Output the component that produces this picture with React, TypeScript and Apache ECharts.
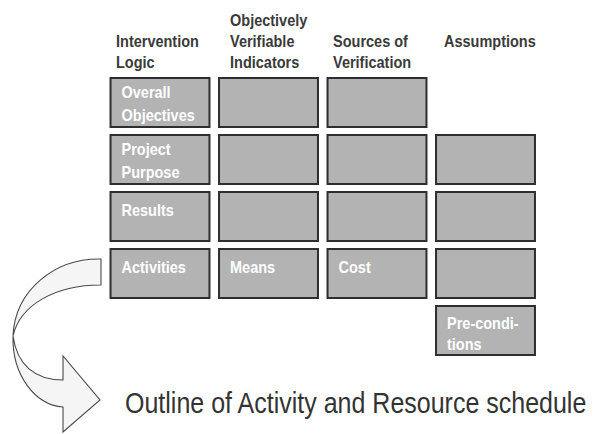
import React, { useEffect, useRef } from "react";
import * as echarts from "echarts";

// ---- content ----
const headers = [
  "Intervention\nLogic",
  "Objectively\nVerifiable\nIndicators",
  "Sources of\nVerification",
  "Assumptions",
];
const rowKeys = ["Overall Objectives", "Project Purpose", "Results", "Activities", "Pre-conditions"];
// null = no box in that cell
const row1 = ["Overall\nObjectives", "", "", null];
const row2 = ["Project\nPurpose", "", "", ""];
const row3 = ["Results", "", "", ""];
const row4 = ["Activities", "Means", "Cost", ""];
const row5 = [null, null, null, "Pre-condi-\ntions"];
const cellLabels: (string | null)[][] = [row1, row2, row3, row4, row5];
const footerText = "Outline of Activity and Resource schedule";

// ---- layout (not data) ----
const headerIndent = [5.5, 11, 5.5, 8];
const FONT = '"Liberation Sans", Arial, sans-serif';
const HEADER_LH = 18.5;
const SY = 1.15;

const arrowD =
  "M101 259 C55 258 15 290 13 336 C12 375 35 405 63 407 L63 432 L100 400 L63 356 L63 380 C35 380 17 365 13 336 C20 305 55 285 101 285 Z";

let registered = false;

export default function App() {
  const ref = useRef<HTMLDivElement>(null);
  useEffect(() => {
    document.body.style.margin = "0";
    if (!registered) {
      echarts.graphic.registerShape("curvedArrow", echarts.graphic.extendPath(arrowD, {}) as any);
      registered = true;
    }
    const chart = echarts.init(ref.current!, null, { renderer: "svg" });

    const cellData: number[][] = [];
    cellLabels.forEach((row, r) =>
      row.forEach((lab, c) => {
        if (lab !== null) cellData.push([c, r]);
      })
    );
    const headerData = headers.map((_, c) => [c, 0]);

    chart.setOption({
      animation: false,
      backgroundColor: "#ffffff",
      grid: { left: 105.75, width: 434, top: 74, height: 285 },
      xAxis: { type: "category", data: headers, show: false },
      yAxis: { type: "category", data: rowKeys, inverse: true, show: false },
      graphic: [
        {
          type: "curvedArrow",
          x: 0,
          y: 0,
          z: 1,
          style: { fill: "#f5f5f5", stroke: "#4a4a4a", lineWidth: 1.1 },
        },
        {
          type: "text",
          x: 125,
          y: 403,
          scaleY: SY,
          style: {
            text: footerText,
            x: 0,
            y: 0,
            verticalAlign: "middle",
            align: "left",
            font: `25px ${FONT}`,
            fill: "#333333",
          },
        },
      ],
      series: [
        {
          type: "custom",
          data: cellData,
          renderItem: (params: any, api: any) => {
            const c = api.value(0);
            const r = api.value(1);
            const p = api.coord([c, r]);
            const s = api.size([1, 1]);
            const w = s[0] * 0.912;
            const h = s[1] * 0.86;
            const x0 = p[0] - w / 2;
            const y0 = p[1] - h / 2;
            const label = cellLabels[r][c] || "";
            const twoLines = label.indexOf("\n") >= 0 && r < 4;
            return {
              type: "group",
              children: [
                {
                  type: "rect",
                  shape: { x: x0, y: y0, width: w, height: h },
                  style: { fill: "#b3b3b3", stroke: "#2e2e2e", lineWidth: 2 },
                },
                {
                  type: "text",
                  x: x0 + 11,
                  y: y0 + (twoLines ? 3 : 7),
                  scaleY: SY,
                  style: {
                    text: label,
                    x: 0,
                    y: 0,
                    verticalAlign: "top",
                    align: "left",
                    lineHeight: r === 4 ? 18 : 20,
                    font: `bold 14.5px ${FONT}`,
                    fill: "#ffffff",
                  },
                },
              ],
            };
          },
        },
        {
          type: "custom",
          data: headerData,
          renderItem: (params: any, api: any) => {
            const c = api.value(0);
            const p = api.coord([c, 0]);
            const s = api.size([1, 1]);
            const w = s[0] * 0.912;
            const h = s[1] * 0.86;
            const x0 = p[0] - w / 2;
            const y0 = p[1] - h / 2;
            const nLines = headers[c].split("\n").length;
            const lift = Math.max(0, 2 - nLines) * HEADER_LH * SY;
            return {
              type: "text",
              x: x0 + headerIndent[c],
              y: y0 - 5 - lift,
              scaleY: SY,
              style: {
                text: headers[c],
                x: 0,
                y: 0,
                verticalAlign: "bottom",
                align: "left",
                lineHeight: HEADER_LH,
                font: `bold 14.5px ${FONT}`,
                fill: "#3a3a3a",
              },
            };
          },
        },
      ],
    });
    return () => chart.dispose();
  }, []);
  return <div ref={ref} style={{ width: 600, height: 434 }} />;
}
